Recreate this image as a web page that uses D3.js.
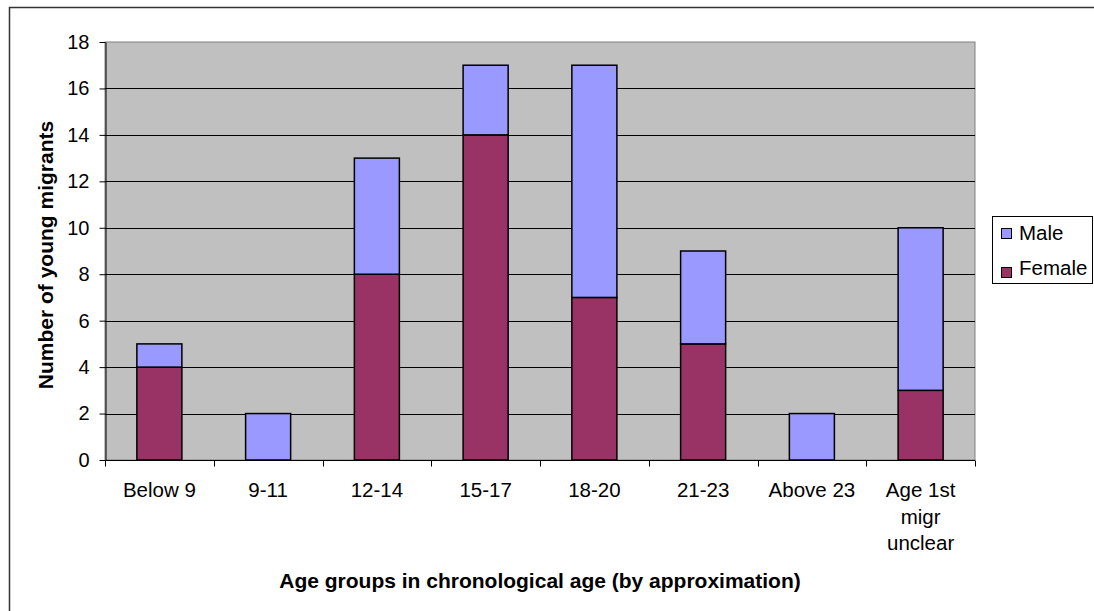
<!DOCTYPE html>
<html><head><meta charset="utf-8">
<script src="https://cdn.jsdelivr.net/npm/d3@7"></script>
<style>body{margin:0;background:#fff}svg{display:block;font-family:"Liberation Sans",Arial,sans-serif}</style>
</head><body>
<svg id="c" width="1094" height="611"></svg>
<script>
const categories = ["Below 9","9-11","12-14","15-17","18-20","21-23","Above 23","Age 1st\nmigr\nunclear"];
const female = [4,0,8,14,7,5,0,3];
const male = [1,2,5,3,10,4,2,7];
const seriesNames = ["Male","Female"];
const yTicks = [0,2,4,6,8,10,12,14,16,18];
const colors = {Male:"#9999FF", Female:"#993366"};

const svg = d3.select("#c");
const L=105,R=975,T=42,B=460;

svg.append("rect").attr("x",9.5).attr("y",7.5).attr("width",1200).attr("height",700)
  .attr("fill","#fff").attr("stroke","#333").attr("stroke-width",1.5);

const x = d3.scaleBand().domain(categories).range([L,R]).paddingInner(0.586).paddingOuter(0.293);
const xEdge = d3.scaleBand().domain(categories).range([L,R]).padding(0);
const y = d3.scaleLinear().domain([0,18]).range([B,T]);

svg.append("rect").attr("x",L).attr("y",T).attr("width",R-L).attr("height",B-T)
  .attr("fill","#C0C0C0").attr("stroke","#808080").attr("stroke-width",1);

svg.append("g").selectAll("line").data(yTicks.filter(d=>d>0&&d<18)).join("line")
  .attr("x1",L).attr("x2",R).attr("y1",d=>Math.round(y(d))+0.5).attr("y2",d=>Math.round(y(d))+0.5)
  .attr("stroke","#000").attr("stroke-width",1);

const data = categories.map((c,i)=>({c, Female:female[i], Male:male[i]}));
const stacked = d3.stack().keys(["Female","Male"])(data);
svg.append("g").selectAll("g").data(stacked).join("g").attr("fill",d=>colors[d.key])
  .selectAll("rect").data(d=>d.filter(p=>p[1]-p[0]>0)).join("rect")
  .attr("x",d=>x(d.data.c)).attr("width",x.bandwidth())
  .attr("y",d=>y(d[1])).attr("height",d=>y(d[0])-y(d[1]))
  .attr("stroke","#000").attr("stroke-width",1.5);

// y axis
const ya = svg.append("g").attr("transform",`translate(${L+0.5},0)`)
  .call(d3.axisLeft(y).tickValues(yTicks).tickSize(6).tickPadding(10).tickSizeOuter(0));
ya.select(".domain").attr("stroke","#000");
ya.selectAll("text").attr("font-size",20).attr("fill","#000").attr("font-family","Liberation Sans, Arial, sans-serif");

// x axis
const xa = svg.append("g").attr("transform",`translate(0,${B+0.5})`);
xa.append("line").attr("x1",L).attr("x2",R).attr("stroke","#000");
const edges = categories.map(c=>xEdge(c)).concat([R]);
xa.selectAll("line.t").data(edges).join("line").attr("class","t")
  .attr("x1",d=>Math.round(d)+0.5).attr("x2",d=>Math.round(d)+0.5).attr("y1",0).attr("y2",6).attr("stroke","#000");
const lbl = xa.selectAll("text").data(categories).join("text")
  .attr("x",d=>xEdge(d)+xEdge.bandwidth()/2).attr("y",36.5)
  .attr("text-anchor","middle").attr("font-size",20.5).attr("fill","#000");
lbl.each(function(d){
  const lines=d.split("\n");
  d3.select(this).selectAll("tspan").data(lines).join("tspan")
    .attr("x",xEdge(d)+xEdge.bandwidth()/2).attr("dy",(l,i)=>i?26.5:0).text(l=>l);
});

svg.append("text").attr("x",(L+R)/2).attr("y",588).attr("text-anchor","middle")
  .attr("font-size",21).attr("font-weight","bold").text("Age groups in chronological age (by approximation)");
svg.append("text").attr("transform",`translate(53,${(T+B)/2+4}) rotate(-90)`).attr("text-anchor","middle")
  .attr("font-size",21).attr("font-weight","bold").text("Number of young migrants");

// legend
const lg = svg.append("g");
lg.append("rect").attr("x",992.5).attr("y",216.5).attr("width",100).attr("height",67)
  .attr("fill","#fff").attr("stroke","#000");
seriesNames.forEach((s,i)=>{
  lg.append("rect").attr("x",1001.5).attr("y",228.5+i*39).attr("width",10).attr("height",10)
    .attr("fill",colors[s]).attr("stroke","#000");
  lg.append("text").attr("x",1019).attr("y",240+i*35).attr("font-size",20.5).text(s);
});
</script>
</body></html>
